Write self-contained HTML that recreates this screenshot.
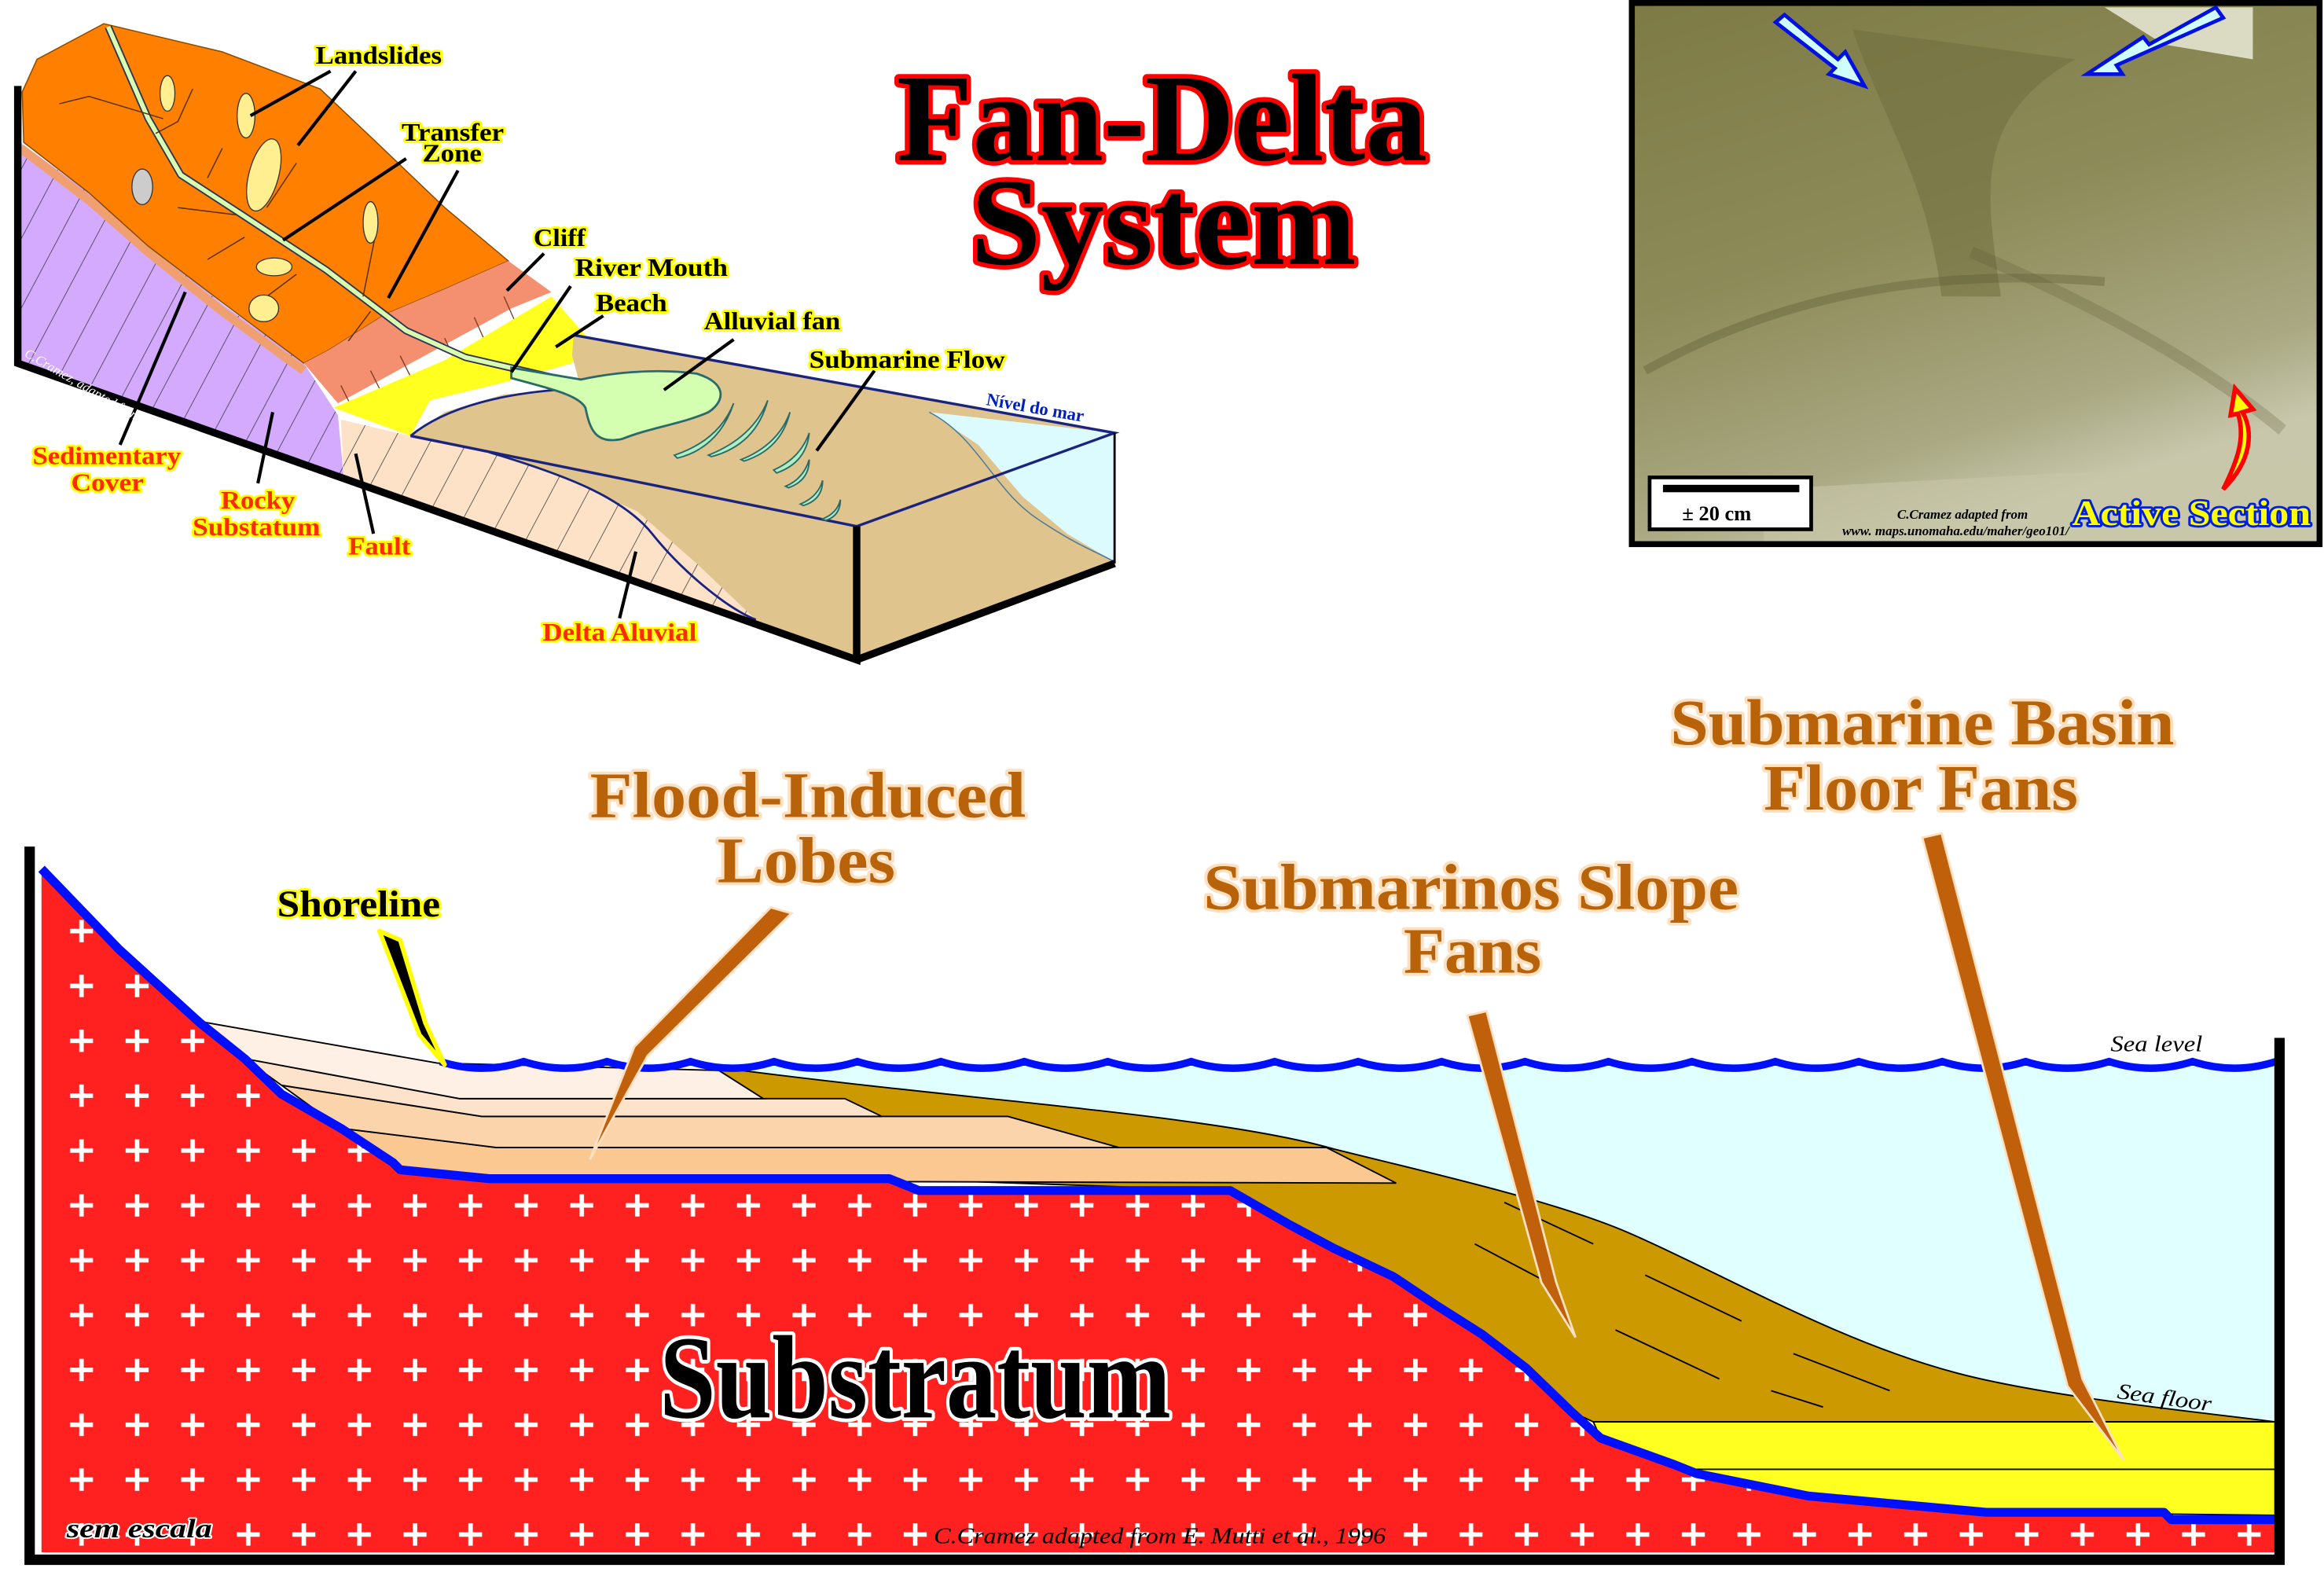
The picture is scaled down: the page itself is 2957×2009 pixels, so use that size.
<!DOCTYPE html>
<html><head><meta charset="utf-8"><style>
html,body{margin:0;padding:0;background:#fff;}
svg{display:block}
.t{font-family:"Liberation Serif",serif;font-weight:bold;paint-order:stroke;stroke-linejoin:round}
.yl{fill:#000;stroke:#ffff00;stroke-width:3;font-size:17px}
.rl{fill:#ff2a00;stroke:#ffff00;stroke-width:3;font-size:17px}
.br{fill:#b8620a;stroke:#fde0c0;stroke-width:4;font-size:44px}
.ln{stroke:#000;stroke-width:2.2;fill:none}
</style></head><body>
<svg width="2957" height="2009" viewBox="0 0 1568 1065" preserveAspectRatio="none" xmlns="http://www.w3.org/2000/svg">
<defs>
<pattern id="hatch" patternUnits="userSpaceOnUse" width="22" height="22" patternTransform="rotate(28)">
<line x1="0" y1="0" x2="0" y2="22" stroke="#333" stroke-width="0.8"/></pattern>
<pattern id="crs" patternUnits="userSpaceOnUse" x="36.25" y="609.5" width="37.5" height="37">
<path d="M18.75,11 V26 M11,18.5 H26.5" stroke="#fff" stroke-width="3"/></pattern>
<linearGradient id="ph" x1="0" y1="0" x2="0.4" y2="1">
<stop offset="0" stop-color="#7d7a45"/><stop offset="0.5" stop-color="#8d8b58"/><stop offset="0.85" stop-color="#a9a882"/><stop offset="1" stop-color="#c8c7ac"/></linearGradient>
</defs>

<!-- ===== TOP LEFT BLOCK DIAGRAM ===== -->
<polygon points="12,95 60,130 100,165 150,205 205,245 228,280 232,323 12,245" fill="#d4aaff"/>
<polygon points="12,95 60,130 100,165 150,205 205,245 228,280 232,323 12,245" fill="url(#hatch)"/>
<polyline points="14,100 60,135 100,170 150,210 205,250" stroke="#f0a070" stroke-width="6" fill="none"/>
<polygon points="15,62 25,40 70,16 150,35 216,60 255,97 300,140 343,176 300,195 260,212 222,236 205,245 150,204 100,166 60,130 16,96" fill="#ff8000" stroke="#8a4a00" stroke-width="0.8"/>
<polygon points="205,245 228,272 290,238 345,208 372,197 343,176 300,195 260,212 222,236" fill="#f49070"/>
<path d="M230,260 l10,20 M250,250 l10,20 M270,240 l10,20 M300,228 l8,18 M320,214 l8,18 M340,200 l8,18" stroke="#7a3a20" stroke-width="0.7"/>
<polygon points="230,283 277,294 578,355 578,445 232,323" fill="#fde2c8"/>
<polygon points="230,283 277,294 578,355 578,445 232,323" fill="url(#hatch)"/>
<polygon points="330,305 578,355 578,445 510,418 470,380 430,345 380,322" fill="#e0c48e"/>
<path d="M330,305 C380,320 420,335 440,360 S490,410 510,418" stroke="#1a237e" stroke-width="1.5" fill="none"/>
<polygon points="225,275 300,243 372,200 395,226 386,245 340,258 290,270 277,294" fill="#ffff20"/>
<polygon points="277,294 300,278 340,266 392,262 386,240 387,226 752,292 578,355" fill="#e0c48e"/>
<path d="M277,294 C300,275 340,264 392,262" stroke="#1a237e" stroke-width="1.5" fill="none"/>
<polygon points="578,355 752,292 752,380 578,445" fill="#e0c48e"/>
<polygon points="627,278 752,292 752,379 720,360 690,335 660,300" fill="#dcfbff"/>
<path d="M627,278 C660,295 670,330 700,350 S740,372 752,379" stroke="#4a7a9a" stroke-width="0.8" fill="none"/>
<polyline points="387,226 752,292 578,355 277,294" stroke="#1a237e" stroke-width="1.8" fill="none"/>
<line x1="752" y1="292" x2="752" y2="380" stroke="#000" stroke-width="1.5"/>
<polyline points="12,58 12,245 578,445 578,355" stroke="#000" stroke-width="5" fill="none"/>
<line x1="578" y1="445" x2="752" y2="380" stroke="#000" stroke-width="5"/>
<path d="M73,18 L100,80 122,118 162,144 220,182 274,223 314,241 353,250 392,259" stroke="#335" stroke-width="5" fill="none"/>
<path d="M73,18 L100,80 122,118 162,144 220,182 274,223 314,241 353,250 392,259" stroke="#d8ffb0" stroke-width="3" fill="none"/>
<path d="M345,248 L392,256 C410,252 440,248 470,252 C490,258 490,270 478,278 C460,286 440,288 420,296 C402,300 398,290 395,275 C390,266 370,262 345,255 Z" fill="#d4ffb0" stroke="#2a6a6a" stroke-width="1.5"/>
<path d="M40,70 L60,65 110,80 M130,60 L120,82 105,90 M150,100 L140,120 M200,110 L180,140 M120,140 L160,145 M140,175 L165,160 M180,200 L200,185 M255,150 L245,200 M250,210 L235,230" stroke="#5a3000" stroke-width="0.8" fill="none"/>
<g fill="#ffef90" stroke="#333" stroke-width="0.7">
<ellipse cx="113" cy="63" rx="5" ry="12"/><ellipse cx="166" cy="78" rx="6" ry="15"/>
<ellipse cx="178" cy="118" rx="10" ry="25" transform="rotate(15 178 118)"/>
<ellipse cx="250" cy="150" rx="5" ry="14"/><ellipse cx="185" cy="180" rx="12" ry="6"/>
<ellipse cx="178" cy="208" rx="10" ry="9"/></g>
<ellipse cx="96" cy="126" rx="7" ry="12" fill="#ccc" stroke="#333" stroke-width="0.7"/>
<g stroke="#2a6a6a" stroke-width="1" fill="#b0f0c0">
<path d="M455,307 q30,-10 40,-35 q-10,30 -38,37z"/><path d="M478,307 q30,-12 40,-37 q-8,30 -38,38z"/>
<path d="M500,310 q25,-10 33,-32 q-6,25 -31,33z"/><path d="M522,317 q18,-8 24,-25 q-2,20 -22,27z"/>
<path d="M530,328 q12,-5 16,-18 q0,14 -14,19z"/><path d="M540,340 q12,-5 15,-16 q0,13 -13,17z"/>
<path d="M555,350 q10,-4 12,-13 q0,11 -10,14z"/></g>
<g class="ln">
<line x1="223" y1="48" x2="169" y2="78"/><line x1="240" y1="48" x2="201" y2="98"/>
<line x1="274" y1="107" x2="191" y2="162"/><line x1="309" y1="115" x2="262" y2="201"/>
<line x1="367" y1="171" x2="342" y2="196"/><line x1="385" y1="193" x2="345" y2="251"/>
<line x1="407" y1="213" x2="375" y2="234"/><line x1="495" y1="229" x2="448" y2="263"/>
<line x1="590" y1="250" x2="551" y2="304"/><line x1="125" y1="197" x2="81" y2="300"/>
<line x1="184" y1="278" x2="174" y2="326"/><line x1="240" y1="306" x2="252" y2="360"/>
<line x1="429" y1="372" x2="418" y2="417"/></g>
<text x="16" y="240" font-family="Liberation Serif" font-style="italic" font-size="9" fill="#fff" transform="rotate(30 16 240)">C.Cramez, adapted from http://sp.lyellcollection.org/content/222/1</text>
<g class="t yl">
<text x="213" y="43" textLength="85" lengthAdjust="spacingAndGlyphs">Landslides</text>
<text x="271" y="95" textLength="69" lengthAdjust="spacingAndGlyphs">Transfer</text>
<text x="285" y="109" textLength="40" lengthAdjust="spacingAndGlyphs">Zone</text>
<text x="360" y="166" textLength="35" lengthAdjust="spacingAndGlyphs">Cliff</text>
<text x="388" y="186" textLength="103" lengthAdjust="spacingAndGlyphs">River Mouth</text>
<text x="402" y="210" textLength="48" lengthAdjust="spacingAndGlyphs">Beach</text>
<text x="475" y="222" textLength="92" lengthAdjust="spacingAndGlyphs">Alluvial fan</text>
<text x="546" y="248" textLength="132" lengthAdjust="spacingAndGlyphs">Submarine Flow</text>
</g>
<g class="t rl">
<text x="22" y="313" textLength="100" lengthAdjust="spacingAndGlyphs">Sedimentary</text>
<text x="48" y="331" textLength="49" lengthAdjust="spacingAndGlyphs">Cover</text>
<text x="149" y="343" textLength="50" lengthAdjust="spacingAndGlyphs">Rocky</text>
<text x="130" y="361" textLength="86" lengthAdjust="spacingAndGlyphs">Substatum</text>
<text x="235" y="374" textLength="42" lengthAdjust="spacingAndGlyphs">Fault</text>
<text x="366" y="432" textLength="104" lengthAdjust="spacingAndGlyphs">Delta Aluvial</text>
</g>
<text x="665" y="273" font-family="Liberation Serif" font-weight="bold" font-size="12" fill="#0020c0" transform="rotate(10 665 273)">Nível do mar</text>

<!-- ===== TITLE ===== -->
<g class="t" fill="#000" stroke="#ff0000" stroke-width="6" font-size="84">
<text x="605" y="108" textLength="358" lengthAdjust="spacingAndGlyphs">Fan-Delta</text>
<text x="655" y="178" textLength="260" lengthAdjust="spacingAndGlyphs">System</text>
</g>

<!-- ===== PHOTO ===== -->
<rect x="1101" y="2" width="464" height="365" fill="url(#ph)" stroke="#000" stroke-width="4"/>
<path d="M1250,20 C1270,80 1300,120 1310,200 L1350,200 C1340,130 1330,80 1400,40 Z" fill="#6e6c3c" opacity="0.5"/>
<path d="M1110,250 C1200,200 1300,180 1420,190" stroke="#5a5830" stroke-width="6" fill="none" opacity="0.35"/>
<path d="M1330,170 C1400,200 1480,240 1540,290" stroke="#5a5830" stroke-width="8" fill="none" opacity="0.25"/>
<polygon points="1420,5 1520,5 1520,40 1460,30" fill="#f0f0e0" opacity="0.8"/>
<polygon points="1190,330 1560,310 1563,365 1190,365" fill="#c8c6a8" opacity="0.6"/>
<rect x="1113" y="322" width="109" height="35" fill="#fff" stroke="#000" stroke-width="2.5"/>
<rect x="1122" y="327" width="92" height="5" fill="#000"/>
<text x="1135" y="351" font-family="Liberation Serif" font-weight="bold" font-size="14">± 20 cm</text>
<g stroke="#0010e0" stroke-width="2.5" fill="#d0ffff" stroke-linejoin="miter">
<polygon points="1198,15 1204,10 1240,40 1245,35 1258,58 1234,50 1238,46"/>
<polygon points="1500,12 1495,5 1450,30 1446,25 1408,50 1432,50 1428,44"/>
</g>
<path d="M1500,330 C1520,310 1520,290 1513,278 L1520,276 L1508,262 L1505,280 L1510,279 C1515,295 1510,310 1500,330 Z" fill="#ffff00" stroke="#ff0000" stroke-width="3"/>
<text x="1280" y="350" font-family="Liberation Serif" font-style="italic" font-weight="bold" font-size="9">C.Cramez adapted from</text>
<text x="1243" y="361" font-family="Liberation Serif" font-style="italic" font-weight="bold" font-size="9">www. maps.unomaha.edu/maher/geo101/</text>
<text class="t" x="1398" y="354" font-size="24" fill="#ffff00" stroke="#0020e0" stroke-width="3" textLength="161" lengthAdjust="spacingAndGlyphs">Active Section</text>

<!-- ===== BOTTOM CROSS SECTION ===== -->
<path d="M298,717 L1535,717 1535,959 C1480,952 1380,942 1320,926 C1240,905 1160,858 1100,832 C1050,810 960,790 900,775 C820,752 650,742 485,720 Z" fill="#e0ffff"/>
<path d="M485,720 C650,742 820,752 900,775 C960,790 1050,810 1100,832 C1160,858 1240,905 1320,926 C1380,942 1480,952 1535,959 L1075,959 1060,952 1030,923 1000,900 970,881 940,861 900,842 870,826 830,803 600,795 330,795 Z" fill="#cc9900" stroke="#000" stroke-width="1"/>
<path d="M1015,811 L1075,839 M995,839 L1050,868 M1110,860 L1175,891 M1090,897 L1160,930 M1210,913 L1275,938 M1195,938 L1230,949" stroke="#000" stroke-width="1"/>
<polygon points="1075,959 1535,959 1535,1022 1340,1020 1220,1009 1145,994 1130,988 1080,970" fill="#ffff20" stroke="#000" stroke-width="1"/>
<line x1="1140" y1="991" x2="1535" y2="991" stroke="#000" stroke-width="1"/>
<polygon points="230,761 335,774 895,774 942,798 600,797 330,795 270,789 265,784" fill="#fbc891" stroke="#000" stroke-width="1"/>
<polygon points="190,732 325,753 680,753 755,774 335,774 230,761" fill="#fcd4ac" stroke="#000" stroke-width="1"/>
<polygon points="165,714 310,741 570,741 595,753 325,753 190,732" fill="#fde3cc" stroke="#000" stroke-width="1"/>
<polygon points="135,689 295,717 485,722 515,741 310,741 165,714" fill="#fef0e4" stroke="#000" stroke-width="1"/>
<path d="M28,586 L80,640 135,690 165,714 190,738 230,761 265,784 270,789 330,795 600,795 620,803 830,803 870,826 900,842 940,861 970,881 1000,900 1030,923 1060,952 1080,970 1130,988 1145,994 1220,1009 1340,1020 1460,1020 1465,1025 1535,1025 1535,1047 28,1047 Z" fill="#ff2020"/>
<path d="M28,586 L80,640 135,690 165,714 190,738 230,761 265,784 270,789 330,795 600,795 620,803 830,803 870,826 900,842 940,861 970,881 1000,900 1030,923 1060,952 1080,970 1130,988 1145,994 1220,1009 1340,1020 1460,1020 1465,1025 1535,1025 1535,1047 28,1047 Z" fill="url(#crs)"/>
<path d="M28,586 L80,640 135,690 165,714 190,738 230,761 265,784 270,789 330,795 600,795 620,803 830,803 870,826 900,842 940,861 970,881 1000,900 1030,923 1060,952 1080,970 1130,988 1145,994 1220,1009 1340,1020 1460,1020 1465,1025 1535,1025" fill="none" stroke="#0010ff" stroke-width="6" stroke-linejoin="round"/>
<path d="M297,716 q28.15,9 56.3,0 q28.15,9 56.3,0 q28.15,9 56.3,0 q28.15,9 56.3,0 q28.15,9 56.3,0 q28.15,9 56.3,0 q28.15,9 56.3,0 q28.15,9 56.3,0 q28.15,9 56.3,0 q28.15,9 56.3,0 q28.15,9 56.3,0 q28.15,9 56.3,0 q28.15,9 56.3,0 q28.15,9 56.3,0 q28.15,9 56.3,0 q28.15,9 56.3,0 q28.15,9 56.3,0 q28.15,9 56.3,0 q28.15,9 56.3,0 q28.15,9 56.3,0 q28.15,9 56.3,0 q28.15,9 56.3,0" stroke="#0010ff" stroke-width="5" fill="none"/>
<polyline points="20,571 20,1052 1538,1052 1538,700" stroke="#000" stroke-width="7" fill="none"/>
<polygon points="256,628 270,634 287,690 300,718 283,698" fill="#000" stroke="#ffff00" stroke-width="3" stroke-linejoin="round"/>
<g fill="#c0600a" stroke="#fde0c0" stroke-width="1.5">
<polygon points="520,612 534,616 437,712 398,782 428,706"/>
<polygon points="990,685 1003,682 1050,865 1063,902 1040,865"/>
<polygon points="1297,565 1310,562 1405,930 1433,985 1395,935"/>
</g>
<g class="t br">
<text x="398" y="551" textLength="294" lengthAdjust="spacingAndGlyphs">Flood-Induced</text>
<text x="484" y="595" textLength="120" lengthAdjust="spacingAndGlyphs">Lobes</text>
<text x="812" y="613" textLength="361" lengthAdjust="spacingAndGlyphs">Submarinos Slope</text>
<text x="947" y="656" textLength="93" lengthAdjust="spacingAndGlyphs">Fans</text>
<text x="1127" y="502" textLength="340" lengthAdjust="spacingAndGlyphs">Submarine Basin</text>
<text x="1190" y="546" textLength="212" lengthAdjust="spacingAndGlyphs">Floor Fans</text>
</g>
<text class="t" x="187" y="618" font-size="25" fill="#000" stroke="#ffff00" stroke-width="3" textLength="110" lengthAdjust="spacingAndGlyphs">Shoreline</text>
<text class="t" x="445" y="956" font-size="80" fill="#000" stroke="#fff" stroke-width="5" textLength="345" lengthAdjust="spacingAndGlyphs">Substratum</text>
<text x="1424" y="709" font-family="Liberation Serif" font-style="italic" font-size="15" textLength="62" lengthAdjust="spacingAndGlyphs">Sea level</text>
<text x="1428" y="943" font-family="Liberation Serif" font-style="italic" font-size="15" transform="rotate(8 1428 943)" textLength="64" lengthAdjust="spacingAndGlyphs">Sea floor</text>
<text class="t" x="45" y="1037" font-style="italic" font-size="18" fill="#000" stroke="#fff" stroke-width="2" textLength="98" lengthAdjust="spacingAndGlyphs">sem escala</text>
<text x="630" y="1041" font-family="Liberation Serif" font-style="italic" font-size="15" fill="#000" textLength="305" lengthAdjust="spacingAndGlyphs">C.Cramez adapted from E. Mutti et al., 1996</text>
</svg>
</body></html>
